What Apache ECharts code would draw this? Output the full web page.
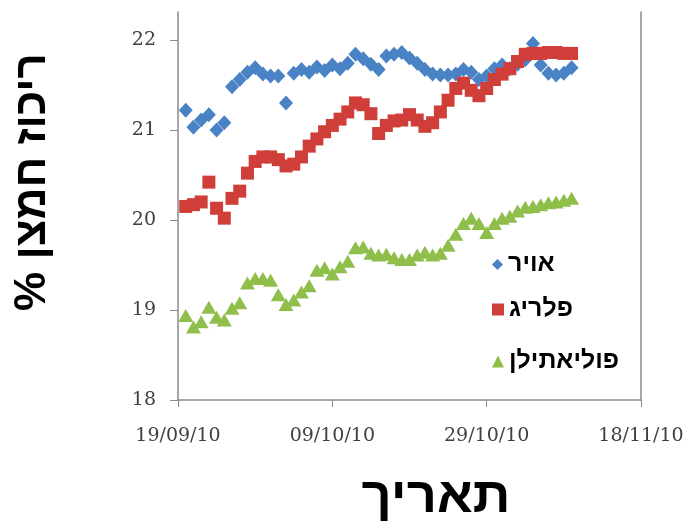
<!DOCTYPE html>
<html>
<head>
<meta charset="utf-8">
<script src="https://cdn.jsdelivr.net/npm/echarts@6/dist/echarts.min.js"></script>
<style>
  html, body { margin: 0; padding: 0; background: #fff; }
  #chart { width: 691px; height: 531px; }
</style>
</head>
<body>
<div id="chart"></div>
<script>
// Day offsets from 19/09/10
const days = [1, 2, 3, 4, 5, 6, 7, 8, 9, 10, 11, 12, 13, 14, 15, 16, 17, 18, 19, 20,
  21, 22, 23, 24, 25, 26, 27, 28, 29, 30, 31, 32, 33, 34, 35, 36, 37, 38, 39, 40,
  41, 42, 43, 44, 45, 46, 47, 48, 49, 50, 51];

const seriesNames = ['אויר', 'פלריג', 'פוליאתילן'];

// Oxygen concentration, %
const air = [21.22, 21.03, 21.11, 21.17, 21.00, 21.08, 21.48, 21.56, 21.64, 21.69,
  21.62, 21.60, 21.60, 21.30, 21.63, 21.67, 21.64, 21.70, 21.66, 21.72,
  21.68, 21.74, 21.84, 21.79, 21.73, 21.67, 21.82, 21.84, 21.86, 21.80,
  21.74, 21.67, 21.62, 21.61, 21.61, 21.62, 21.67, 21.64, 21.56, 21.60,
  21.68, 21.72, 21.68, 21.73, 21.78, 21.96, 21.72, 21.63, 21.61, 21.63, 21.69];

const plarig = [20.15, 20.17, 20.20, 20.42, 20.13, 20.02, 20.24, 20.32, 20.52, 20.65,
  20.70, 20.70, 20.67, 20.60, 20.62, 20.70, 20.82, 20.90, 20.98, 21.05,
  21.12, 21.20, 21.30, 21.28, 21.18, 20.96, 21.05, 21.10, 21.11, 21.17,
  21.11, 21.04, 21.08, 21.20, 21.33, 21.46, 21.52, 21.44, 21.38, 21.46,
  21.56, 21.62, 21.68, 21.76, 21.84, 21.85, 21.85, 21.86, 21.86, 21.85, 21.85];

const polyethylene = [18.94, 18.81, 18.87, 19.03, 18.92, 18.89, 19.02, 19.08, 19.30, 19.35,
  19.35, 19.33, 19.17, 19.06, 19.11, 19.20, 19.27, 19.44, 19.47, 19.40,
  19.48, 19.54, 19.69, 19.70, 19.63, 19.61, 19.62, 19.58, 19.56, 19.56,
  19.61, 19.64, 19.61, 19.63, 19.72, 19.84, 19.96, 20.02, 19.96, 19.86,
  19.96, 20.02, 20.04, 20.10, 20.14, 20.15, 20.17, 20.19, 20.20, 20.22, 20.24];

const xTickLabels = ['19/09/10', '09/10/10', '29/10/10', '18/11/10'];
const yTickValues = [18, 19, 20, 21, 22];

const xTitle = 'תאריך';
const yTitle = '% ריכוז חמצן';

const colors = ['#4a82c6', '#d03e3a', '#8fbe4b'];
const symbols = ['diamond', 'rect', 'triangle'];
const symbolSizes = [[14, 15], 13, [15, 13]];

function pairs(values) {
  return days.map((d, i) => [d, values[i]]);
}

const chart = echarts.init(document.getElementById('chart'), null, { renderer: 'canvas' });

const axisGray = '#8a8a8a';
const labelFont = { fontFamily: 'DejaVu Serif', fontSize: 19, color: '#404040' };
const legendText = { fontFamily: 'Liberation Sans, DejaVu Sans, sans-serif', fontSize: 25, fontWeight: 'bold', color: '#000' };

const legendTops = [252, 297, 349];

chart.setOption({
  animation: false,
  backgroundColor: '#ffffff',
  grid: { left: 178, right: 50, top: 12, bottom: 131, containLabel: false },
  xAxis: {
    type: 'value',
    min: 0,
    max: 60,
    interval: 20,
    axisLine: { show: true, lineStyle: { color: axisGray, width: 1.5 } },
    axisTick: { show: true, length: 7, lineStyle: { color: axisGray, width: 1 } },
    splitLine: { show: false },
    axisLabel: Object.assign({ margin: 27, formatter: v => xTickLabels[Math.round(v / 20)] }, labelFont)
  },
  yAxis: [
    {
      type: 'value',
      min: 18,
      max: 22.31,
      interval: 1,
      axisLine: { show: true, lineStyle: { color: axisGray, width: 1.5 } },
      axisTick: { show: true, length: 8, customValues: yTickValues, lineStyle: { color: axisGray, width: 1 } },
      splitLine: { show: false },
      axisLabel: Object.assign({ margin: 22, customValues: yTickValues }, labelFont)
    },
    {
      // right edge of the plot frame
      type: 'value',
      position: 'right',
      min: 18,
      max: 22.31,
      axisLine: { show: true, lineStyle: { color: axisGray, width: 1.5 } },
      axisTick: { show: false },
      axisLabel: { show: false },
      splitLine: { show: false }
    }
  ],
  legend: seriesNames.map((name, i) => ({
    data: [{ name: name, icon: symbols[i] }],
    left: 492,
    top: legendTops[i],
    padding: 0,
    itemGap: 0,
    itemWidth: i === 0 ? 11 : 12,
    itemHeight: i === 0 ? 11 : 12,
    textStyle: legendText,
    selectedMode: false
  })),
  series: [air, plarig, polyethylene].map((vals, i) => ({
    name: seriesNames[i],
    type: 'scatter',
    data: pairs(vals),
    symbol: symbols[i],
    symbolSize: symbolSizes[i],
    itemStyle: { color: colors[i], opacity: 1 },
    z: 2 + i
  })),
  graphic: [
    {
      type: 'text',
      x: 33, y: 182,
      rotation: Math.PI / 2,
      style: {
        text: yTitle,
        font: 'bold 44px "Liberation Sans", "DejaVu Sans", sans-serif',
        fill: '#000',
        align: 'center',
        verticalAlign: 'middle'
      }
    },
    {
      type: 'text',
      x: 436, y: 498,
      scaleX: 1.05,
      style: {
        text: xTitle,
        font: 'bold 50px "Liberation Sans", "DejaVu Sans", sans-serif',
        fill: '#000',
        align: 'center',
        verticalAlign: 'middle'
      }
    }
  ]
});
</script>
</body>
</html>
